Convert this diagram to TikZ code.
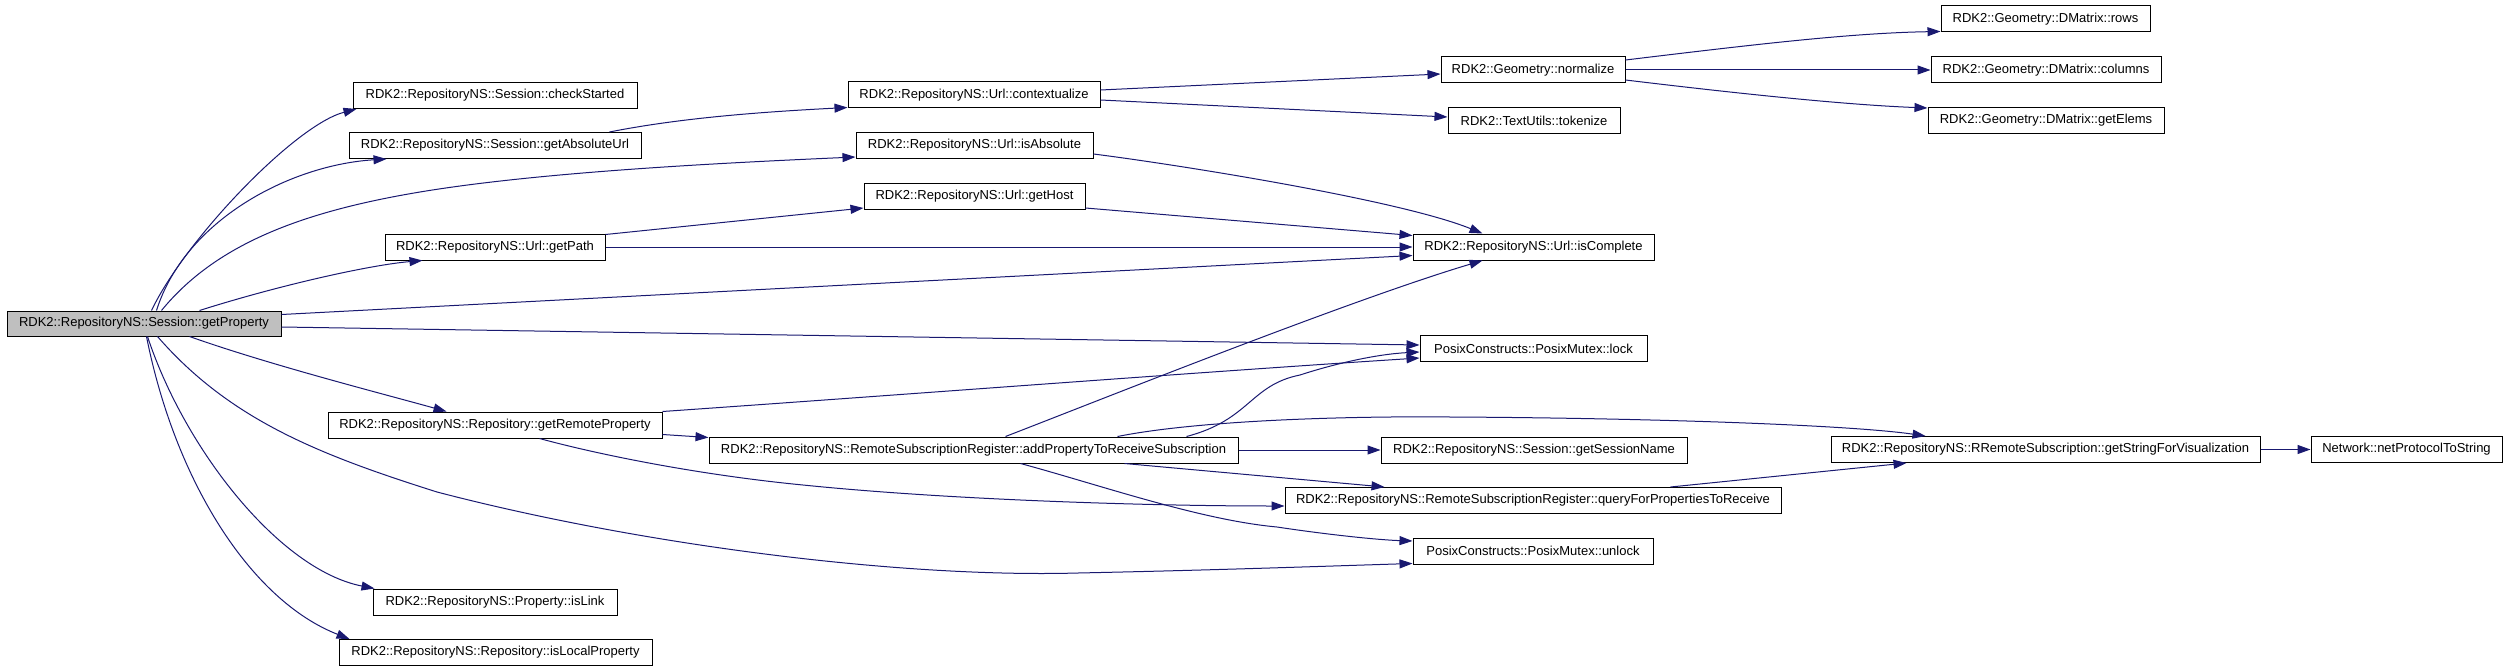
\documentclass[tikz,border=0pt]{standalone}
\usepackage{fontspec}
\setmainfont{Liberation Sans}
\usetikzlibrary{arrows.meta,calc}
\definecolor{navy}{HTML}{191970}
\definecolor{rootgray}{HTML}{BFBFBF}
\tikzset{
  fbox/.style={draw=black, fill=white, line width=1pt, minimum height=26pt, inner sep=0pt, font=\fontsize{13pt}{15pt}\selectfont},
  rootbox/.style={fbox, fill=rootgray},
  callarrow/.style={draw=navy, line width=1pt, -{Triangle[length=13pt,width=9pt]}}
}
\begin{document}
\begin{tikzpicture}[x=1pt,y=-1pt]
\useasboundingbox (0,0) rectangle (2507,671);
% nodes
\node[rootbox, minimum width=274pt, minimum height=25pt] (gp) at (144,323.5) {RDK2::RepositoryNS::Session::getProperty};
\node[fbox, minimum width=284pt] (cs) at (495,95.5) {RDK2::RepositoryNS::Session::checkStarted};
\node[fbox, minimum width=292pt] (gau) at (495,145.5) {RDK2::RepositoryNS::Session::getAbsoluteUrl};
\node[fbox, minimum width=220pt] (gpath) at (495,247) {RDK2::RepositoryNS::Url::getPath};
\node[fbox, minimum width=334pt] (grp) at (495,425) {RDK2::RepositoryNS::Repository::getRemoteProperty};
\node[fbox, minimum width=244pt] (il) at (495,602) {RDK2::RepositoryNS::Property::isLink};
\node[fbox, minimum width=313pt] (ilp) at (495.5,652.5) {RDK2::RepositoryNS::Repository::isLocalProperty};
\node[fbox, minimum width=252pt] (ctx) at (974,95) {RDK2::RepositoryNS::Url::contextualize};
\node[fbox, minimum width=237pt] (ia) at (974.5,145.5) {RDK2::RepositoryNS::Url::isAbsolute};
\node[fbox, minimum width=221pt] (gh) at (974.5,196.5) {RDK2::RepositoryNS::Url::getHost};
\node[fbox, minimum width=529pt] (ap) at (973.5,450) {RDK2::RepositoryNS::RemoteSubscriptionRegister::addPropertyToReceiveSubscription};
\node[fbox, minimum width=184pt] (norm) at (1533,70) {RDK2::Geometry::normalize};
\node[fbox, minimum width=172pt] (tok) at (1534,120.5) {RDK2::TextUtils::tokenize};
\node[fbox, minimum width=241pt] (ic) at (1533.5,247) {RDK2::RepositoryNS::Url::isComplete};
\node[fbox, minimum width=227pt] (lock) at (1533.5,348.5) {PosixConstructs::PosixMutex::lock};
\node[fbox, minimum width=306pt] (gsn) at (1534,450) {RDK2::RepositoryNS::Session::getSessionName};
\node[fbox, minimum width=496pt] (qry) at (1533,500.5) {RDK2::RepositoryNS::RemoteSubscriptionRegister::queryForPropertiesToReceive};
\node[fbox, minimum width=240pt] (unl) at (1533,551) {PosixConstructs::PosixMutex::unlock};
\node[fbox, minimum width=429pt] (gsv) at (2045.5,449.5) {RDK2::RepositoryNS::RRemoteSubscription::getStringForVisualization};
\node[fbox, minimum width=191pt] (net) at (2406.5,449.5) {Network::netProtocolToString};
\node[fbox, minimum width=209pt] (rows) at (2045.5,19) {RDK2::Geometry::DMatrix::rows};
\node[fbox, minimum width=230pt] (cols) at (2046,70) {RDK2::Geometry::DMatrix::columns};
\node[fbox, minimum width=236pt] (elems) at (2046,120.5) {RDK2::Geometry::DMatrix::getElems};
% edges from getProperty
\draw[callarrow] ($(gp.north west)+(145,0)$) .. controls (185,240) and (295,125) .. ($(cs.south west)+(4,0)$);
\draw[callarrow] ($(gp.north west)+(150,0)$) .. controls (185,220) and (290,165) .. ($(gau.south west)+(38,0)$);
\draw[callarrow] ($(gp.north west)+(155,0)$) .. controls (215,245) and (300,212) .. (420,192) .. controls (540,172) and (720,163) .. ($(ia.south west)+(0,-2)$);
\draw[callarrow] ($(gp.north west)+(193,0)$) .. controls (280,285) and (370,265) .. ($(gpath.south west)+(38,0)$);
\draw[callarrow] ($(gp.north east)+(0,4)$) -- ($(ic.south west)+(0,-5)$);
\draw[callarrow] ($(gp.east)+(0,3.5)$) -- ($(lock.west)+(0,-3.5)$);
\draw[callarrow] ($(gp.south west)+(183,0)$) .. controls (270,365) and (380,393) .. ($(grp.north west)+(119,0)$);
\draw[callarrow] ($(gp.south west)+(151,0)$) .. controls (230,420) and (320,455) .. (437,492) .. controls (640,545) and (900,578) .. (1078,573) .. controls (1220,570) and (1330,566) .. ($(unl.south west)+(0,-1)$);
\draw[callarrow] ($(gp.south west)+(141,0)$) .. controls (185,450) and (280,570) .. ($(il.north west)+(2,0)$);
\draw[callarrow] ($(gp.south west)+(140,0)$) .. controls (175,480) and (250,600) .. ($(ilp.north west)+(11,0)$);
% second level
\draw[callarrow] ($(gau.north west)+(261,0)$) .. controls (680,118) and (760,112) .. ($(ctx.south west)+(0,-1)$);
\draw[callarrow] ($(ctx.east)+(0,-5)$) -- ($(norm.west)+(0,4)$);
\draw[callarrow] ($(ctx.east)+(0,5)$) -- ($(tok.west)+(0,-3.5)$);
\draw[callarrow] ($(norm.east)+(0,-10)$) .. controls (1750,45) and (1850,33) .. ($(rows.south west)+(0,-1)$);
\draw[callarrow] (norm.east) -- (cols.west);
\draw[callarrow] ($(norm.east)+(0,10)$) .. controls (1750,95) and (1850,105) .. ($(elems.north west)+(0,1)$);
\draw[callarrow] ($(ia.east)+(0,8.5)$) .. controls (1180,165) and (1400,200) .. ($(ic.north west)+(70,0)$);
\draw[callarrow] ($(gpath.north east)+(0,1)$) -- ($(gh.south west)+(0,-2)$);
\draw[callarrow] (gpath.east) -- (ic.west);
\draw[callarrow] ($(gh.south east)+(0,-2)$) -- ($(ic.north west)+(0,2)$);
\draw[callarrow] (grp.north east) .. controls (900,395) and (1200,372) .. ($(lock.west)+(0,9.5)$);
\draw[callarrow] ($(grp.south east)+(0,-4)$) -- ($(ap.north west)+(0,1)$);
\draw[callarrow] ($(grp.south west)+(212,0)$) .. controls (600,455) and (700,475) .. (803,485) .. controls (950,500) and (1150,506) .. ($(qry.west)+(0,5.5)$);
% from addPropertyToReceiveSubscription
\draw[callarrow] ($(ap.north west)+(297,0)$) .. controls (1100,400) and (1350,300) .. ($(ic.south west)+(70,0)$);
\draw[callarrow] ($(ap.north east)+(-52,0)$) .. controls (1250,420) and (1250,385) .. (1300,375) .. controls (1340,362) and (1380,354) .. ($(lock.west)+(0,3.5)$);
\draw[callarrow] (ap.east) -- (gsn.west);
\draw[callarrow] ($(ap.south east)+(-114,0)$) -- ($(qry.north west)+(100,0)$);
\draw[callarrow] ($(ap.south west)+(312,0)$) .. controls (1100,485) and (1200,520) .. (1277,527) .. controls (1330,535) and (1380,540) .. ($(unl.west)+(0,-10)$);
\draw[callarrow] ($(ap.north east)+(-121,0)$) .. controls (1200,420) and (1350,416) .. (1450,417) .. controls (1650,418) and (1850,425) .. ($(gsv.north west)+(95,0)$);
\draw[callarrow] ($(qry.north west)+(386,0)$) -- ($(gsv.south west)+(76,0)$);
\draw[callarrow] (gsv.east) -- (net.west);
\end{tikzpicture}
\end{document}
